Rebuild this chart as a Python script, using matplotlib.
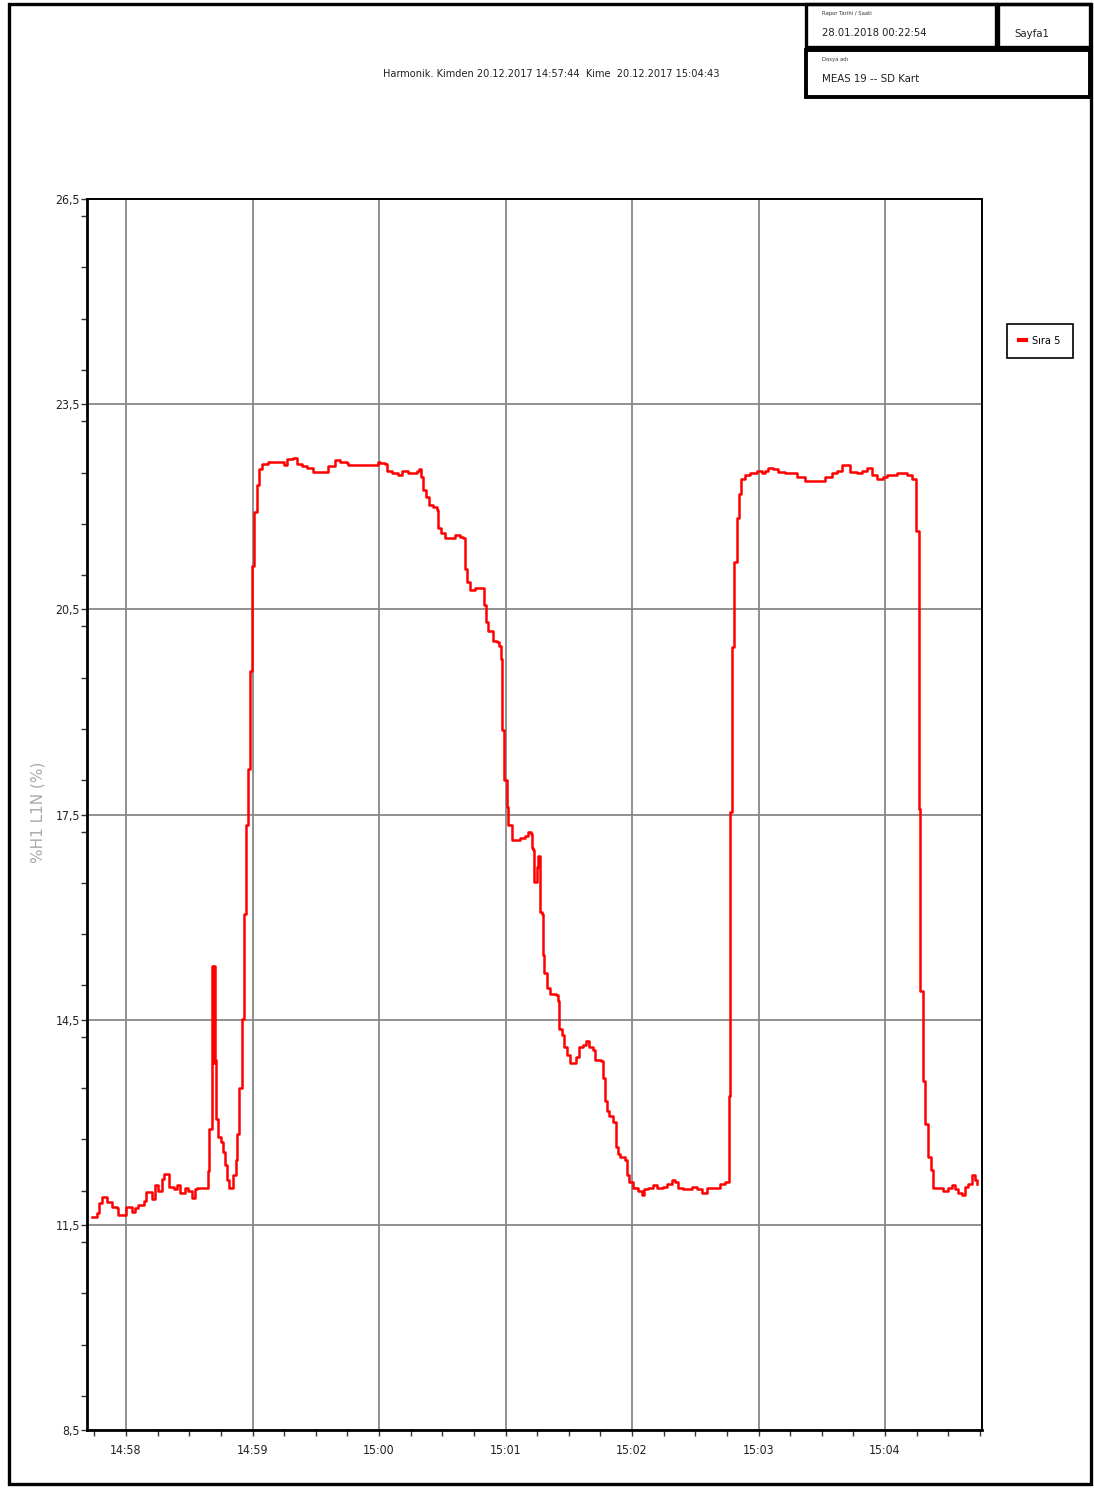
import numpy as np
import matplotlib
matplotlib.use("Agg")
import matplotlib.pyplot as plt
import matplotlib.font_manager as fm
from matplotlib.patches import Rectangle
from matplotlib.lines import Line2D
from matplotlib.ticker import FixedLocator, MultipleLocator, FixedFormatter

# seconds after 14:58:00, and %H1 L1N values
t_sec = [-16.3, -13.9, -12.8, -11.5, -9.6, -9.2, -7.1, -6.8, -4.4, -3.6, -1.3, -0.2,
         1.6, 2.7, 4.3, 5.8, 8.7, 9.5, 11.4, 12.2, 13.8, 15.3, 16.9, 18.2, 19.8, 20.4,
         22.9, 24.0, 25.6, 28.0, 29.6, 31.1, 32.7, 33.5, 37.5, 38.7, 39.5, 40.6, 40.9,
         41.4, 41.9, 42.2, 42.7, 43.8, 45.1, 46.2, 47.0, 48.1, 48.8, 50.6, 50.9, 52.2,
         52.6, 53.6, 54.9, 56.1, 56.8, 57.7, 58.8, 59.6, 60.9, 62.0, 63.1, 64.3, 67.5,
         73.8, 74.9, 76.2, 79.4, 80.9, 83.3, 85.8, 88.8, 93.6, 96.0, 99.1, 101.5,
         104.7, 105.4, 118.9, 119.7, 120.5, 122.8, 124.0, 126.0, 129.2, 130.7, 133.9,
         137.9, 139.1, 139.8, 141.0, 142.3, 143.9, 145.8, 147.4, 148.1, 149.4, 151.3,
         155.3, 156.0, 158.4, 160.0, 160.8, 161.9, 163.2, 165.5, 169.2, 169.8, 170.7,
         171.9, 173.9, 175.8, 177.1, 177.9, 178.2, 179.3, 180.5, 181.3, 182.9, 185.3,
         186.9, 189.2, 190.8, 191.9, 192.4, 193.2, 193.5, 194.5, 194.8, 195.6, 196.4,
         196.5, 197.2, 197.6, 198.3, 199.5, 201.1, 204.0, 205.1, 205.4, 206.6, 207.7,
         209.0, 210.6, 212.2, 213.4, 215.0, 216.9, 218.2, 219.8, 221.3, 222.4, 225.1,
         226.1, 227.2, 228.0, 229.2, 231.1, 232.4, 233.5, 234.3, 236.7, 237.5, 238.7,
         240.6, 243.0, 244.6, 245.7, 247.7, 250.1, 251.7, 254.9, 256.4, 258.8, 260.4,
         262.0, 264.3, 268.3, 270.7, 273.0, 275.4, 280.2, 281.7, 284.1, 285.7, 285.8,
         286.5, 287.4, 288.5, 289.6, 290.6, 291.9, 293.6, 296.0, 299.1, 301.5, 303.1,
         304.7, 307.0, 309.4, 312.6, 315.7, 318.1, 322.0, 330.0, 331.5, 334.7, 337.1,
         339.4, 341.0, 343.4, 346.6, 348.9, 351.3, 353.7, 356.0, 359.2, 360.8, 365.5,
         370.3, 372.6, 374.5, 376.0, 376.6, 377.9, 379.1, 380.5, 381.8, 382.9, 386.1,
         387.7, 390.0, 391.6, 393.2, 394.8, 396.4, 397.9, 399.5, 401.1, 402.7, 403.8]
h1_pct = [11.61, 11.67, 11.82, 11.91, 11.91, 11.83, 11.83, 11.76, 11.74, 11.65, 11.65, 11.76,
          11.76, 11.69, 11.74, 11.79, 11.85, 11.98, 11.98, 11.88, 12.08, 12.00, 12.17, 12.25,
          12.25, 12.06, 12.03, 12.08, 11.97, 12.04, 12.00, 11.89, 12.02, 12.04, 12.04, 12.29,
          12.90, 12.90, 15.29, 13.87, 15.29, 13.91, 13.05, 12.79, 12.71, 12.56, 12.38, 12.15,
          12.04, 12.04, 12.23, 12.45, 12.83, 13.50, 14.51, 16.04, 17.35, 18.17, 19.60, 21.13,
          21.93, 22.32, 22.55, 22.62, 22.65, 22.65, 22.61, 22.70, 22.71, 22.62, 22.59, 22.57,
          22.51, 22.51, 22.59, 22.68, 22.66, 22.64, 22.61, 22.61, 22.65, 22.64, 22.62, 22.53,
          22.49, 22.47, 22.53, 22.49, 22.53, 22.55, 22.44, 22.25, 22.14, 22.03, 21.99, 21.95,
          21.69, 21.61, 21.55, 21.55, 21.59, 21.56, 21.54, 21.09, 20.90, 20.78, 20.81, 20.81,
          20.57, 20.31, 20.19, 20.04, 20.02, 19.97, 19.78, 18.73, 18.00, 17.61, 17.35, 17.13,
          17.13, 17.15, 17.19, 17.24, 17.22, 17.01, 16.98, 16.51, 16.51, 16.73, 16.90, 16.90,
          16.08, 16.04, 15.44, 15.18, 14.96, 14.88, 14.86, 14.77, 14.36, 14.28, 14.10, 13.99,
          13.87, 13.86, 13.95, 14.10, 14.13, 14.19, 14.10, 14.06, 13.91, 13.89, 13.65, 13.31,
          13.16, 13.09, 13.01, 12.64, 12.53, 12.49, 12.45, 12.23, 12.12, 12.04, 12.00, 11.94,
          12.02, 12.04, 12.08, 12.04, 12.06, 12.09, 12.15, 12.12, 12.04, 12.02, 12.06, 12.02,
          11.97, 12.04, 12.04, 12.10, 12.12, 12.13, 13.39, 17.54, 19.95, 21.19, 21.84, 22.19,
          22.41, 22.47, 22.49, 22.53, 22.49, 22.53, 22.56, 22.55, 22.51, 22.49, 22.49, 22.44,
          22.38, 22.38, 22.44, 22.49, 22.53, 22.61, 22.61, 22.51, 22.49, 22.53, 22.57, 22.46,
          22.41, 22.44, 22.47, 22.49, 22.46, 22.41, 21.65, 17.58, 14.92, 13.61, 12.98, 12.49,
          12.30, 12.04, 12.04, 12.00, 12.04, 12.08, 12.02, 11.97, 11.94, 12.06, 12.10, 12.23,
          12.15, 12.09]

x_ticks = [0, 60, 120, 180, 240, 300, 360]
x_labels = ["14:58", "14:59", "15:00", "15:01", "15:02", "15:03", "15:04"]
y_ticks = [8.5, 11.5, 14.5, 17.5, 20.5, 23.5, 26.5]
y_labels = ["8,5", "11,5", "14,5", "17,5", "20,5", "23,5", "26,5"]

# look for a narrow face (Arial Narrow-like); otherwise plain Liberation Sans, smaller
narrow_file = None
for f in fm.fontManager.ttflist:
    st = f.stretch
    is_narrow = ("Narrow" in f.name or "Condensed" in f.name or
                 st in ("condensed", "semi-condensed", "extra-condensed") or
                 (isinstance(st, int) and st < 500))
    if is_narrow and f.style == "normal" and f.weight in (400, "normal", "regular"):
        narrow_file = f.fname
        break

if narrow_file:
    def fp(size):
        return fm.FontProperties(fname=narrow_file, size=size)
    k = 1.0
else:
    def fp(size):
        return fm.FontProperties(family="Liberation Sans", size=size)
    k = 0.85

W, H = 1094, 1488

fig = plt.figure(figsize=(W / 100, H / 100), dpi=100)
ax = fig.add_axes([87 / W, 1 - 1430 / H, (982 - 87) / W, (1430 - 199) / H])

ax.plot(t_sec, h1_pct, color="#ff0000", lw=1.8, drawstyle="steps-post")

ax.set_xlim(-18.5, 406)
ax.set_ylim(8.5, 26.5)
ax.xaxis.set_major_locator(FixedLocator(x_ticks))
ax.xaxis.set_major_formatter(FixedFormatter(x_labels))
ax.xaxis.set_minor_locator(MultipleLocator(15))
ax.yaxis.set_major_locator(FixedLocator(y_ticks))
ax.yaxis.set_major_formatter(FixedFormatter(y_labels))
ax.yaxis.set_minor_locator(MultipleLocator(0.75))
ax.grid(True, which="major", color="#888888", lw=1.3)
ax.tick_params(which="major", direction="out", length=4, width=1, colors="#333333", pad=6)
ax.tick_params(which="minor", direction="out", length=4, width=1, colors="#333333")
ax.tick_params(axis="y", pad=1)
for lab in ax.get_xticklabels() + ax.get_yticklabels():
    lab.set_fontproperties(fp(8.8 * k))
    lab.set_color("#222222")
for side in ["left", "bottom"]:
    ax.spines[side].set_linewidth(2.0)
for side in ["top", "right"]:
    ax.spines[side].set_linewidth(1.4)

fig.text(38 / W, 1 - 812 / H, "%H1 L1N (%)", rotation=90, color="#aaaaaa",
         fontsize=11, ha="center", va="center")

leg = fig.legend(handles=[Line2D([], [], color="#ff0000", lw=3)], labels=["Sıra 5"],
                 loc="center", bbox_to_anchor=(1040 / W, 1 - 341 / H),
                 handlelength=0.6, handletextpad=0.6, borderpad=1.1,
                 fancybox=False, edgecolor="black", framealpha=1,
                 prop=fp(7.8 * k))
leg.get_frame().set_linewidth(1.2)

# header
fig.text(551 / W, 1 - 74 / H,
         "Harmonik. Kimden 20.12.2017 14:57:44  Kime  20.12.2017 15:04:43",
         ha="center", va="center", fontproperties=fp(7.8 * k), color="#222222")


def box(x, y, w, h, lw):
    fig.patches.append(Rectangle((x / W, 1 - (y + h) / H), w / W, h / H, fill=False,
                                 edgecolor="black", lw=lw, transform=fig.transFigure))


box(9, 4, 1082, 1480, 2.4)
box(806, 4, 190, 43, 2.4)
box(998, 4, 92, 43, 2.4)
box(806, 50, 284, 47, 2.8)

fig.text(822 / W, 1 - 14 / H, "Rapor Tarihi / Saati", fontproperties=fp(4.2),
         va="center", color="#333333")
fig.text(822 / W, 1 - 33 / H, "28.01.2018 00:22:54", fontproperties=fp(8.0 * k),
         va="center", color="#222222")
fig.text(1014 / W, 1 - 34 / H, "Sayfa1", fontproperties=fp(8.2 * k),
         va="center", color="#222222")
fig.text(822 / W, 1 - 60 / H, "Dosya adı", fontproperties=fp(4.2),
         va="center", color="#333333")
fig.text(822 / W, 1 - 79 / H, "MEAS 19 -- SD Kart", fontproperties=fp(8.2 * k),
         va="center", color="#222222")

fig.savefig("out.png", dpi=100)
